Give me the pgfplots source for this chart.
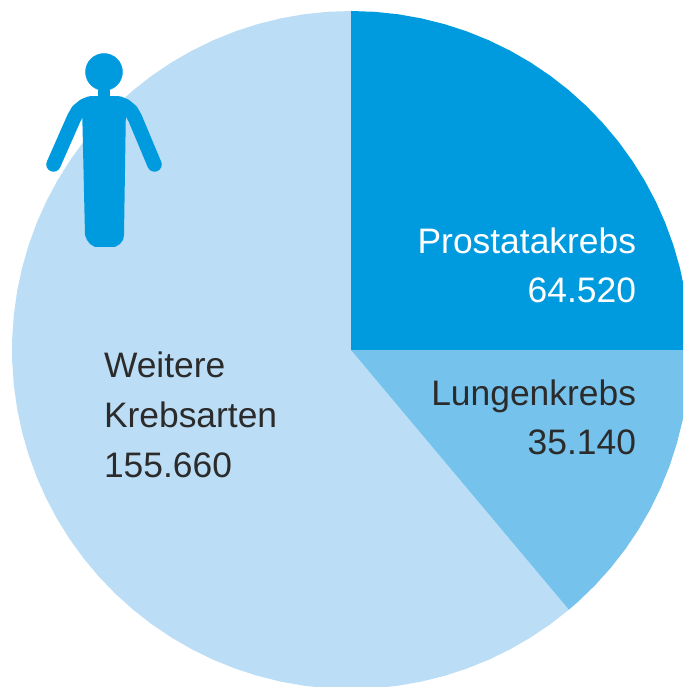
\documentclass[border=0pt]{standalone}
\usepackage{pgfplots}
\pgfplotsset{compat=1.18}
\usepackage{fontspec}
\setmainfont{Liberation Sans}
\definecolor{cA}{HTML}{009ADE}
\definecolor{cB}{HTML}{75C2EC}
\definecolor{cC}{HTML}{BBDEF6}
\definecolor{txt}{HTML}{2B2B2B}
\tikzset{lbl/.style={font=\fontsize{35.4}{42}\selectfont,inner sep=0pt,outer sep=0pt}}
\begin{document}
\begin{tikzpicture}
\path[use as bounding box] (0,0) rectangle (683pt,687pt);
\begin{axis}[hide axis,x=1pt,y=1pt,xmin=-351,xmax=332,ymin=-337,ymax=350,clip=true]
% Weitere Krebsarten 155.660
\addplot[draw=none,fill=cC,data cs=polar] coordinates {(0,0)
(-50,339)(-54,339)(-58,339)(-62,339)(-66,339)(-70,339)(-74,339)(-78,339)(-82,339)(-86,339)(-90,339)(-94,339)(-98,339)(-102,339)(-106,339)(-110,339)(-114,339)(-118,339)(-122,339)(-126,339)(-130,339)(-134,339)(-138,339)(-142,339)(-146,339)(-150,339)(-154,339)(-158,339)(-162,339)(-166,339)(-170,339)(-174,339)(-178,339)(-182,339)(-186,339)(-190,339)(-194,339)(-198,339)(-202,339)(-206,339)(-210,339)(-214,339)(-218,339)(-222,339)(-226,339)(-230,339)(-234,339)(-238,339)(-242,339)(-246,339)(-250,339)(-254,339)(-258,339)(-262,339)(-266,339)(-270,339)} --cycle;
% Lungenkrebs 35.140
\addplot[draw=none,fill=cB,data cs=polar] coordinates {(0,0)
(0,339)(-4,339)(-8,339)(-12,339)(-16,339)(-20,339)(-24,339)(-28,339)(-32,339)(-36,339)(-40,339)(-44,339)(-48,339)(-50,339)} --cycle;
% Prostatakrebs 64.520
\addplot[draw=none,fill=cA,data cs=polar] coordinates {(0,0)
(90,339)(86,339)(82,339)(78,339)(74,339)(70,339)(66,339)(62,339)(58,339)(54,339)(50,339)(46,339)(42,339)(38,339)(34,339)(30,339)(26,339)(22,339)(18,339)(14,339)(10,339)(6,339)(2,339)(0,339)} --cycle;
% Person icon
\addplot[cA,only marks,mark=*,mark size=18.5pt,mark options={draw=none,fill=cA}] coordinates {(-247,278)};
\addplot[draw=none,fill=cA] coordinates {(-253,260)(-241,260)(-241,245)(-253,245)} --cycle;
\addplot[cA,line width=14.5pt,line cap=round,line join=round] coordinates {(-297.5,185.5)(-277,232)(-273,239)(-267,244)(-261,246.5)(-232,246.5)(-226,244)(-220,239)(-216,232)(-196.5,185.5)};
\addplot[draw=none,fill=cA] coordinates {(-269,246)(-225,246)(-227,115)(-228,110)(-231,106)(-236,103)(-256,103)(-261,106)(-264,110)(-266,115)} --cycle;
\node[lbl,anchor=base east,text=white] at (axis cs:285,96) {Prostatakrebs};
\node[lbl,anchor=base east,text=white] at (axis cs:285,47) {64.520};
\node[lbl,anchor=base east,text=txt] at (axis cs:285,-56) {Lungenkrebs};
\node[lbl,anchor=base east,text=txt] at (axis cs:285,-105) {35.140};
\node[lbl,anchor=base west,text=txt] at (axis cs:-247,-28) {Weitere};
\node[lbl,anchor=base west,text=txt] at (axis cs:-247,-78) {Krebsarten};
\node[lbl,anchor=base west,text=txt] at (axis cs:-247,-128) {155.660};
\end{axis}
\end{tikzpicture}
\end{document}
